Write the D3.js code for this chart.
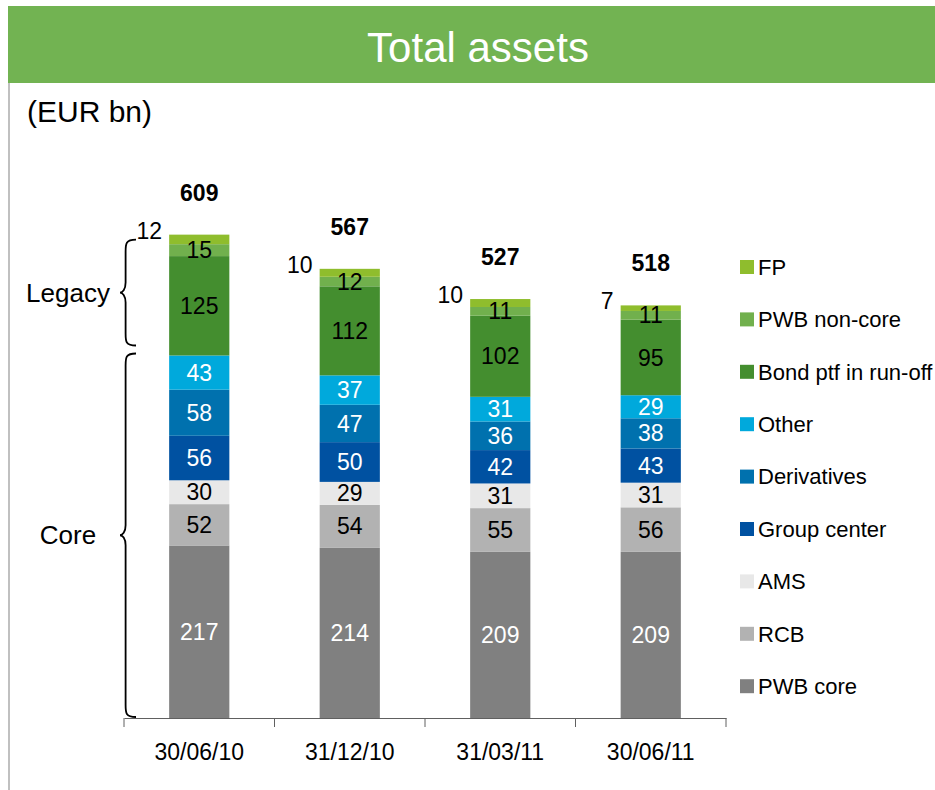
<!DOCTYPE html>
<html>
<head>
<meta charset="utf-8">
<script src="https://cdn.jsdelivr.net/npm/d3@7"></script>
<style>
  body { margin: 0; background: #fff; }
  svg { display: block; font-family: "Liberation Sans", Arial, sans-serif; }
</style>
</head>
<body>
<div id="chart"></div>
<script>
// dates and series values (EUR bn), bottom to top of each bar
const dates = ['30/06/10', '31/12/10', '31/03/11', '30/06/11'];
const pwbCore = [217, 214, 209, 209];
const rcb = [52, 54, 55, 56];
const ams = [30, 29, 31, 31];
const groupCenter = [56, 50, 42, 43];
const derivatives = [58, 47, 36, 38];
const other = [43, 37, 31, 29];
const bondPtf = [125, 112, 102, 95];
const pwbNonCore = [15, 12, 11, 11];
const fp = [12, 10, 10, 7];
const totals = [609, 567, 527, 518];

const seriesNames = ['PWB core', 'RCB', 'AMS', 'Group center', 'Derivatives', 'Other', 'Bond ptf in run-off', 'PWB non-core', 'FP'];
const seriesValues = [pwbCore, rcb, ams, groupCenter, derivatives, other, bondPtf, pwbNonCore, fp];
const seriesColors = ['#808080', '#b2b2b2', '#e8e8e8', '#0051a1', '#0071ae', '#00a9dc', '#448e2f', '#71b04d', '#8fbd2d'];
const labelColors = ['#fff', '#000', '#000', '#fff', '#fff', '#fff', '#000', '#000', null];

const width = 935, height = 790;

const table = dates.map((d, i) => {
  const row = {date: d};
  seriesNames.forEach((s, j) => row[s] = seriesValues[j][i]);
  return row;
});

const svg = d3.select('#chart').append('svg')
    .attr('width', width)
    .attr('height', height);

// header band
svg.append('rect')
    .attr('x', 8).attr('y', 6)
    .attr('width', width - 8).attr('height', 77)
    .attr('fill', '#72b352');
svg.append('text')
    .attr('x', 478).attr('y', 62)
    .attr('text-anchor', 'middle')
    .attr('fill', '#fff')
    .style('font-size', '42px')
    .text('Total assets');

// left frame line
svg.append('line')
    .attr('x1', 9).attr('x2', 9)
    .attr('y1', 83).attr('y2', height)
    .attr('stroke', '#c0c0c0')
    .attr('stroke-width', 2);

svg.append('text')
    .attr('x', 27).attr('y', 122)
    .style('font-size', '30px')
    .text('(EUR bn)');

// scales
const x = d3.scaleBand()
    .domain(dates)
    .range([124, 726])
    .paddingInner(0.6)
    .paddingOuter(0.3);

const y = d3.scaleLinear()
    .domain([0, 700])
    .range([718, 161.5]);

const stack = d3.stack().keys(seriesNames);
const stacked = stack(table);

const layers = svg.append('g').selectAll('g')
    .data(stacked)
  .join('g')
    .attr('fill', (d, i) => seriesColors[i]);

layers.selectAll('rect')
    .data(d => d)
  .join('rect')
    .attr('x', d => x(d.data.date))
    .attr('y', d => y(d[1]))
    .attr('width', x.bandwidth())
    .attr('height', d => y(d[0]) - y(d[1]));

// segment labels (FP is labelled outside the bar)
stacked.forEach((layer, i) => {
  const g = svg.append('g');
  if (labelColors[i]) {
    g.selectAll('text')
        .data(layer)
      .join('text')
        .attr('x', d => x(d.data.date) + x.bandwidth() / 2)
        .attr('y', d => (y(d[0]) + y(d[1])) / 2)
        .attr('dy', '0.35em')
        .attr('text-anchor', 'middle')
        .attr('fill', labelColors[i])
        .style('font-size', '23px')
        .text(d => d[1] - d[0]);
  } else {
    g.selectAll('text')
        .data(layer)
      .join('text')
        .attr('x', d => x(d.data.date) - 7)
        .attr('y', d => y(d[1]) - 4)
        .attr('dy', '0.35em')
        .attr('text-anchor', 'end')
        .attr('fill', '#000')
        .style('font-size', '23px')
        .text(d => d[1] - d[0]);
  }
});

// totals
svg.append('g').selectAll('text')
    .data(dates)
  .join('text')
    .attr('x', d => x(d) + x.bandwidth() / 2)
    .attr('y', (d, i) => y(d3.sum(seriesValues, s => s[i])) - 42)
    .attr('dy', '0.35em')
    .attr('text-anchor', 'middle')
    .style('font-size', '23px')
    .style('font-weight', 'bold')
    .text((d, i) => totals[i]);

// x axis
const xAxis = svg.append('g')
    .attr('transform', `translate(0,${y(0)})`)
    .call(d3.axisBottom(x).tickSize(0).tickPadding(26));
xAxis.select('.domain').attr('stroke', '#606060').attr('stroke-width', 1.2);
xAxis.selectAll('text').style('font-size', '23px').attr('fill', '#000');
xAxis.selectAll('.edge')
    .data(d3.range(dates.length + 1).map(i => x.range()[0] + i * (x.range()[1] - x.range()[0]) / dates.length))
  .join('line')
    .attr('class', 'edge')
    .attr('x1', d => d).attr('x2', d => d)
    .attr('y1', 0).attr('y2', 9)
    .attr('stroke', '#606060');

// braces grouping Legacy and Core
function brace(x0, y0, y1, depth) {
  const m = (y0 + y1) / 2;
  const c = depth;
  return `M${x0 + c},${y0}` +
    `C${x0 + c * 0.35},${y0} ${x0 + c * 0.35},${y0 + 4} ${x0 + c * 0.35},${y0 + 12}` +
    `L${x0 + c * 0.35},${m - 10}` +
    `C${x0 + c * 0.35},${m - 3} ${x0 + c * 0.15},${m} ${x0},${m}` +
    `C${x0 + c * 0.15},${m} ${x0 + c * 0.35},${m + 3} ${x0 + c * 0.35},${m + 10}` +
    `L${x0 + c * 0.35},${y1 - 12}` +
    `C${x0 + c * 0.35},${y1 - 4} ${x0 + c * 0.35},${y1} ${x0 + c},${y1}`;
}

const coreTop = d3.sum(seriesValues.slice(0, 6), s => s[0]);
const legacyTop = d3.sum(seriesValues, s => s[0]);
const groups = [
  {name: 'Legacy', y0: y(legacyTop) + 5, y1: y(coreTop) - 10},
  {name: 'Core', y0: y(coreTop) - 2, y1: y(0) - 1}
];

svg.append('g').selectAll('path')
    .data(groups)
  .join('path')
    .attr('d', d => brace(120, d.y0, d.y1, 16))
    .attr('fill', 'none')
    .attr('stroke', '#000')
    .attr('stroke-width', 1.8);

svg.append('g').selectAll('text')
    .data(groups)
  .join('text')
    .attr('x', 68)
    .attr('y', d => (d.y0 + d.y1) / 2)
    .attr('dy', '0.35em')
    .attr('text-anchor', 'middle')
    .style('font-size', '26px')
    .text(d => d.name);

// legend
const legend = svg.append('g')
    .attr('transform', 'translate(740,267)');
const legendItems = legend.selectAll('g')
    .data(seriesNames.slice().reverse())
  .join('g')
    .attr('transform', (d, i) => `translate(0,${i * 52.4})`);
legendItems.append('rect')
    .attr('y', -7)
    .attr('width', 14).attr('height', 14)
    .attr('fill', d => seriesColors[seriesNames.indexOf(d)]);
legendItems.append('text')
    .attr('x', 18)
    .attr('dy', '0.35em')
    .style('font-size', '22px')
    .text(d => d);
</script>
</body>
</html>
